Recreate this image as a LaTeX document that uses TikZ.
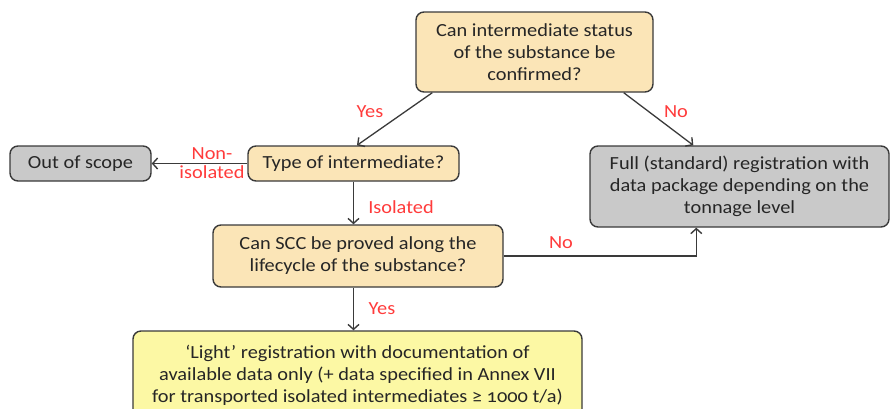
\documentclass[tikz,border=0pt]{standalone}
\usepackage{fontspec}
\setmainfont{Carlito}[Numbers=OldStyle,FakeStretch=1.1]
\usetikzlibrary{arrows.meta,calc}
\definecolor{tanfill}{HTML}{FBE5B7}
\definecolor{grayfill}{HTML}{C9C9C9}
\definecolor{yelfill}{HTML}{FCF8A4}
\definecolor{edge}{HTML}{3A3A3A}
\definecolor{lab}{HTML}{FF3B3B}
\definecolor{txt}{HTML}{262626}
\tikzset{
  box/.style={draw=edge, line width=1.4pt, rounded corners=8pt, align=center, text=txt,
    font=\fontsize{18.5}{22}\selectfont, inner sep=2pt},
  q/.style={box, fill=tanfill},
  g/.style={box, fill=grayfill},
  yl/.style={box, fill=yelfill},
  conn/.style={draw=edge, line width=1.3pt, -{Straight Barb[length=5pt,width=11pt,line width=1.4pt]}},
  lbl/.style={text=lab, font=\fontsize{18.5}{19}\selectfont, align=center, inner sep=1pt}
}
\begin{document}
\begin{tikzpicture}[x=1pt,y=-1pt]
\useasboundingbox (0,0) rectangle (890,408);
\node[q, minimum width=237pt, minimum height=80pt] (top) at (534.5,52) {Can intermediate status\\of the substance be\\confirmed?};
\node[q, minimum width=211pt, minimum height=35pt] (type) at (353.5,163.5) {Type of intermediate?};
\node[g, minimum width=141pt, minimum height=35pt] (out) at (80.5,163.5) {Out of scope};
\node[g, minimum width=299pt, minimum height=81pt] (full) at (739.5,186.5) {Full (standard) registration with\\data package depending on the\\tonnage level};
\node[q, minimum width=290pt, minimum height=62pt] (scc) at (358,256) {Can SCC be proved along the\\lifecycle of the substance?};
\node[yl, minimum width=449pt, minimum height=88pt] (light) at (357.5,375) {`Light' registration with documentation of\\available data only (+ data specified in Annex VII\\for transported isolated intermediates ≥ 1000 t/a)};
\coordinate (t1) at ($(top.south west)+(17,0)$);
\coordinate (t2) at ($(top.south east)+(-30,0)$);
\coordinate (fullin) at ($(full.north west)+(104,0)$);
\coordinate (fullbot) at ($(full.south west)+(107,0)$);
\draw[conn] (t1) -- (type.north -| 357,0);
\draw[conn] (t2) -- (fullin);
\draw[conn] (type.west) -- (out.east);
\draw[conn] (type.south) -- (type.south |- scc.north);
\draw[conn] (scc.east) -| (fullbot);
\draw[conn] (type.south |- scc.south) -- (type.south |- light.north);
\node[lbl] (l1) at (370,112) {Yes};
\node[lbl] (l2) at (676,112) {No};
\node[lbl] (l3) at (212,163) {Non-\\isolated};
\node[lbl] (l4) at (401,207) {Isolated};
\node[lbl] (l5) at (561,243) {No};
\node[lbl] (l6) at (382,309) {Yes};
\end{tikzpicture}
\end{document}
